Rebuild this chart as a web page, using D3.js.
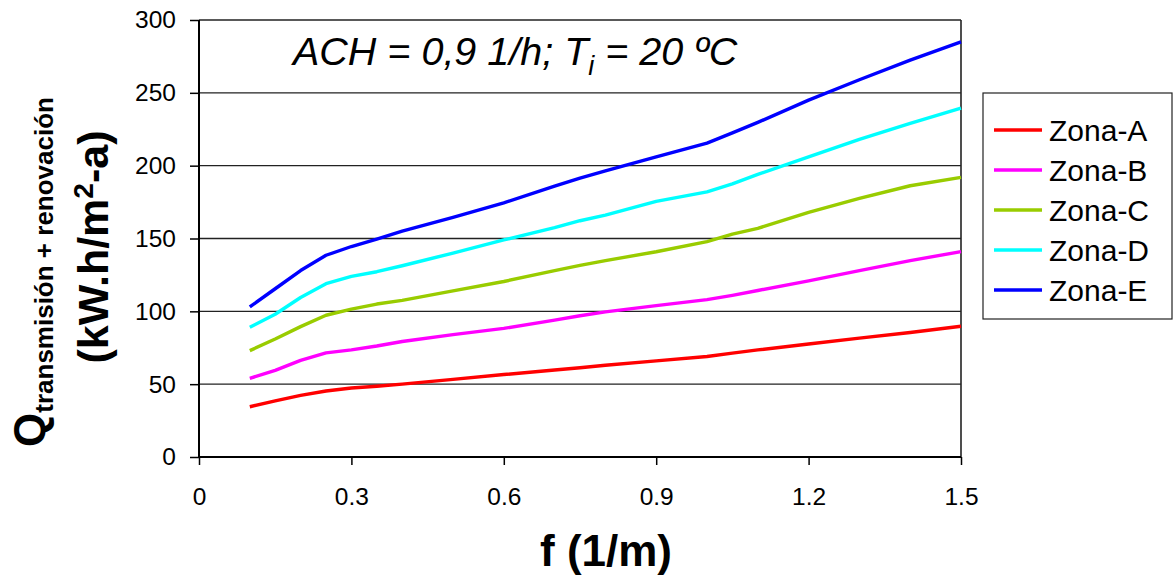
<!DOCTYPE html>
<html>
<head>
<meta charset="utf-8">
<script src="https://cdn.jsdelivr.net/npm/d3@7"></script>
<style>
  body { margin: 0; background: #fff; }
  text { font-family: Arial, "Liberation Sans", sans-serif; }
</style>
</head>
<body>
<svg id="chart" width="1173" height="577"></svg>
<script>
// f (1/m) values along the x axis
let fValues = [0.1, 0.15, 0.2, 0.25, 0.3, 0.35, 0.4, 0.5, 0.6, 0.7, 0.75, 0.8, 0.9, 1.0, 1.05, 1.1, 1.2, 1.3, 1.4, 1.5];

// Q values, one list per zone
let zonaA = [34.5, 38.5, 42.3, 45.3, 47.4, 48.6, 50, 53.3, 56.6, 59.7, 61.3, 63, 66, 69, 71.3, 73.5, 77.6, 81.6, 85.5, 89.8];
let zonaB = [54, 59.5, 66.3, 71.5, 73.5, 76.2, 79.3, 84, 88.3, 94, 97, 99.6, 103.9, 108, 111, 114.3, 120.9, 128, 134.8, 141];
let zonaC = [73, 81, 89.5, 97.3, 101.5, 105, 107.5, 114, 120.5, 128, 131.5, 134.8, 140.9, 147.8, 153, 157, 168, 177.5, 186.2, 192];
let zonaD = [89, 98, 109.5, 119, 124, 127.2, 131.3, 140, 149, 157.5, 162.2, 166, 175.5, 182, 187.5, 194, 206, 218, 229, 239.5];
let zonaE = [103, 115.5, 128, 138.5, 144.5, 149.6, 155, 164.5, 174.5, 186, 191.5, 196.5, 206, 215.5, 222.5, 229.7, 245, 259, 272.5, 285];

let zoneNames = ["Zona-A", "Zona-B", "Zona-C", "Zona-D", "Zona-E"];
let zoneColors = ["#ff0000", "#ff00ff", "#99cc00", "#00ffff", "#0000ff"];
let xTicks = [0, 0.3, 0.6, 0.9, 1.2, 1.5];
let yTicks = [0, 50, 100, 150, 200, 250, 300];

let series = [zonaA, zonaB, zonaC, zonaD, zonaE];

let margin = {top: 20, right: 212, bottom: 120, left: 199},
    width = 1173 - margin.left - margin.right,
    height = 577 - margin.top - margin.bottom;

let svg = d3.select("#chart");
let chart = svg.append("g")
    .attr("transform", "translate(" + margin.left + "," + margin.top + ")");

let xScale = d3.scaleLinear().domain([0, 1.5]).range([0, width]);
let yScale = d3.scaleLinear().domain([0, 300]).range([height, 0]);

// gridlines
chart.append("g")
    .selectAll("line")
    .data(yTicks.filter(d => d > 0))
    .join("line")
    .attr("x1", 0)
    .attr("x2", width)
    .attr("y1", d => yScale(d))
    .attr("y2", d => yScale(d))
    .attr("stroke", "#222")
    .attr("stroke-width", 1.4);

// right border of plot area
chart.append("line")
    .attr("x1", width).attr("x2", width)
    .attr("y1", 0).attr("y2", height)
    .attr("stroke", "#222")
    .attr("stroke-width", 1.6);

// axes
let xAxis = chart.append("g")
    .attr("transform", "translate(0," + height + ")")
    .call(d3.axisBottom(xScale).tickValues(xTicks).tickSize(8).tickPadding(23)
        .tickFormat(d => d === 0 ? "0" : d3.format(".1f")(d)));

let yAxis = chart.append("g")
    .call(d3.axisLeft(yScale).tickValues(yTicks).tickSize(9).tickPadding(14));

[xAxis, yAxis].forEach(ax => {
    ax.select(".domain").attr("stroke", "#000").attr("stroke-width", 2);
    ax.selectAll(".tick line").attr("stroke", "#000").attr("stroke-width", 1.5);
    ax.selectAll(".tick text")
        .attr("fill", "#000")
        .style("font-size", "24.5px")
        .style("font-family", "Arial, 'Liberation Sans', sans-serif");
});
xAxis.select(".domain").attr("d", "M0,0H" + width);
yAxis.select(".domain").attr("d", "M0," + height + "V0");

// data lines
let line = d3.line()
    .x((d, i) => xScale(fValues[i]))
    .y(d => yScale(d));

chart.selectAll(".zone")
    .data(series)
    .join("path")
    .attr("class", "zone")
    .attr("fill", "none")
    .attr("stroke", (d, i) => zoneColors[i])
    .attr("stroke-width", 3.4)
    .attr("stroke-linejoin", "round")
    .attr("d", line);

// title inside the plot
let title = svg.append("text")
    .attr("x", 293)
    .attr("y", 65)
    .style("font-size", "39.5px")
    .style("font-style", "italic");
title.append("tspan").text("ACH = 0,9 1/h; T");
title.append("tspan").attr("dy", 10).style("font-size", "27px").text("i");
title.append("tspan").attr("dy", -10).text(" = 20 ºC");

// y axis title
let yTitle1 = svg.append("text")
    .attr("transform", "translate(45,272) rotate(-90)")
    .attr("text-anchor", "middle")
    .style("font-weight", "bold");
yTitle1.append("tspan").style("font-size", "44px").text("Q");
yTitle1.append("tspan").attr("dy", 8).style("font-size", "26px").text("transmisión + renovación");

let yTitle2 = svg.append("text")
    .attr("transform", "translate(108,247) rotate(-90)")
    .attr("text-anchor", "middle")
    .style("font-weight", "bold")
    .style("font-size", "43px");
yTitle2.append("tspan").text("(kW.h/m");
yTitle2.append("tspan").attr("dy", -15).style("font-size", "28px").text("2");
yTitle2.append("tspan").attr("dy", 15).text("-a)");

// x axis title
svg.append("text")
    .attr("x", 606)
    .attr("y", 566)
    .attr("text-anchor", "middle")
    .style("font-weight", "bold")
    .style("font-size", "44px")
    .text("f (1/m)");

// legend
let legend = svg.append("g").attr("transform", "translate(983,93)");
legend.append("rect")
    .attr("x", 0).attr("y", 0)
    .attr("width", 189).attr("height", 226)
    .attr("fill", "#fff")
    .attr("stroke", "#222")
    .attr("stroke-width", 1.2);

let items = legend.selectAll(".item")
    .data(zoneNames)
    .join("g")
    .attr("class", "item")
    .attr("transform", (d, i) => "translate(0," + (37 + i * 40) + ")");
items.append("line")
    .attr("x1", 11).attr("x2", 59)
    .attr("y1", 0).attr("y2", 0)
    .attr("stroke", (d, i) => zoneColors[i])
    .attr("stroke-width", 3.4);
items.append("text")
    .attr("x", 66)
    .attr("y", 11)
    .style("font-size", "30px")
    .text(d => d);
</script>
</body>
</html>
